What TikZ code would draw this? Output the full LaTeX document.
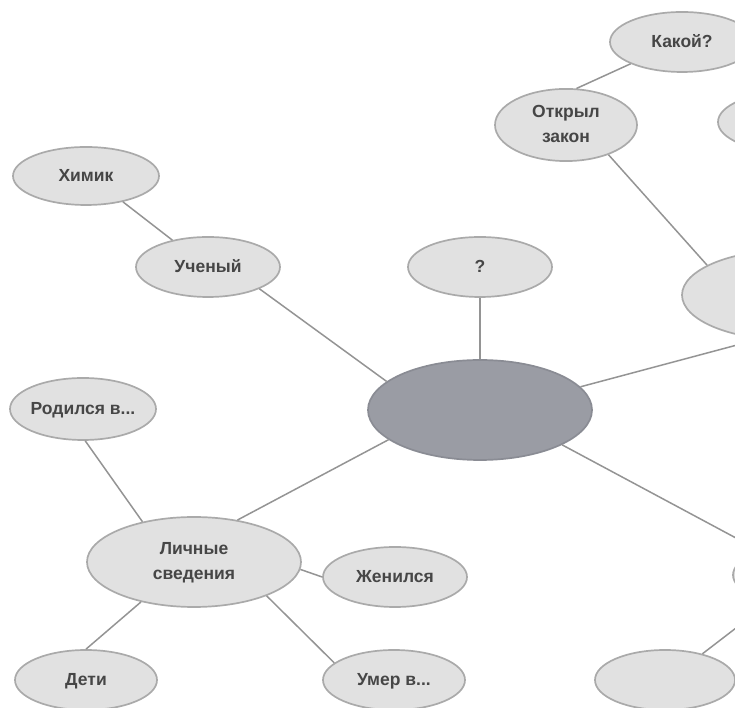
\documentclass[tikz,border=0pt]{standalone}
\usepackage{fontspec}
\setmainfont{Liberation Sans}
\usetikzlibrary{shapes.geometric}
\definecolor{hubfill}{RGB}{154,156,164}
\definecolor{hubline}{RGB}{138,140,148}
\definecolor{bubfill}{RGB}{225,225,225}
\definecolor{bubline}{RGB}{170,170,170}
\definecolor{linkcol}{RGB}{148,148,148}
\definecolor{txtcol}{RGB}{70,70,70}
% text of a bubble, kept out of the shape size
\newcommand{\ovtext}[1]{\makebox[0pt]{\begin{tabular}{@{}c@{}}#1\end{tabular}}}
\begin{document}
\begin{tikzpicture}[x=1pt,y=1pt,
    bubble/.style={ellipse,draw=bubline,fill=bubfill,line width=1.7pt,
      inner sep=0pt,minimum width=144pt,minimum height=60pt,
      text=txtcol,font=\fontsize{17.5}{25.5}\selectfont\bfseries},
    bigbubble/.style={bubble,minimum width=214pt,minimum height=90pt},
    hub/.style={ellipse,draw=hubline,fill=hubfill,line width=1.7pt,
      minimum width=224pt,minimum height=100pt},
    link/.style={draw=linkcol,line width=1.5pt}]
  \useasboundingbox (0,0) rectangle (735,708);
  \clip (0,0) rectangle (735,708);
  % center
  \node[hub] (c) at (480,298) {};
  % upper branches
  \node[bubble] (q) at (480,441) {\ovtext{?}};
  \node[bubble] (uch) at (208,441) {\ovtext{Ученый}};
  \node[bubble,minimum width=146pt,minimum height=58pt] (him) at (86,532) {\ovtext{Химик}};
  \node[bubble,minimum width=142pt] (otk) at (566,583) {\ovtext{Открыл\\закон}};
  \node[bubble] (kak) at (682,666) {\ovtext{Какой?}};
  \node[bubble] (rtop) at (790,586) {};
  \node[bigbubble] (rA) at (789,413) {};
  % personal data
  \node[bubble,minimum width=146pt,minimum height=62pt] (rod) at (83,299) {\ovtext{Родился в...}};
  \node[bigbubble] (lich) at (194,146) {\ovtext{Личные\\сведения}};
  \node[bubble] (zhen) at (395,131) {\ovtext{Женился}};
  \node[bubble,minimum width=142pt] (deti) at (86,28) {\ovtext{Дети}};
  \node[bubble,minimum width=142pt] (umer) at (394,28) {\ovtext{Умер в...}};
  % lower right
  \node[bubble,minimum width=140pt] (bot) at (665,28) {};
  \node[bubble] (rB) at (805,133) {};
  % links
  \draw[link] (him.-35) -- (uch.143);
  \draw[link] (uch.-23) -- (c.163);
  \draw[link] (q.south) -- (c.north);
  \draw[link] (otk.74) -- (kak.203);
  \draw[link] (otk.-35) -- (rA.160);
  \draw[link] (c.13) -- (rA.236);
  \draw[link] (rod.-86) -- (lich.142);
  \draw[link] (lich.44) -- (c.198);
  \draw[link] (lich.-4) -- (zhen.180);
  \draw[link] (lich.217) -- (deti.90);
  \draw[link] (lich.-25) -- (umer.164);
  \draw[link] (c.-23) -- (rB);
  \draw[link] (bot.35) -- (rB);
\end{tikzpicture}
\end{document}
